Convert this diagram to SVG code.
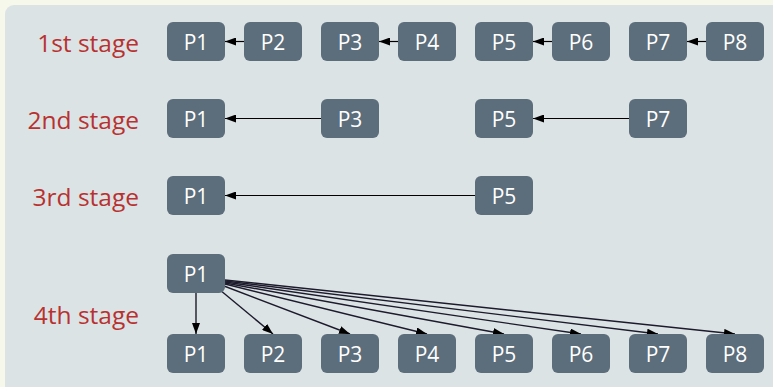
<svg xmlns="http://www.w3.org/2000/svg" width="773" height="387" viewBox="0 0 773 387">
  <style>
    .stage { font-family: "Open Sans", "Noto Sans", sans-serif; font-size: 24.5px; fill: #b83131; text-anchor: end; dominant-baseline: central; }
    .box { fill: #5c6d7b; }
    .lbl { font-family: "Open Sans", "Noto Sans", sans-serif; font-size: 21px; fill: #ffffff; text-anchor: middle; dominant-baseline: central; }
    .edge { stroke: #000; stroke-width: 1.2; fill: none; marker-end: url(#head); }
    .fan { stroke: #1c1a2c; stroke-width: 1.4; }
  </style>
  <defs>
    <marker id="head" markerUnits="userSpaceOnUse" markerWidth="11" markerHeight="8" refX="11" refY="4" orient="auto">
      <path d="M0,0 L11,4 L0,8 z" fill="#000"/>
    </marker>
    <g id="n">
      <rect class="box" width="58" height="39" rx="6" ry="6"/>
    </g>
  </defs>

  <rect width="773" height="387" fill="#f7f8ec"/>
  <rect x="5" y="5" width="790" height="400" rx="9" ry="9" fill="#dce3e5"/>

  <!-- stage labels -->
  <text class="stage" x="139" y="42">1st stage</text>
  <text class="stage" x="139" y="119">2nd stage</text>
  <text class="stage" x="139" y="196">3rd stage</text>
  <text class="stage" x="139" y="314">4th stage</text>

  <!-- connectors -->
  <g id="connectors">
    <line class="edge" x1="244" y1="41.5" x2="225" y2="41.5"/>
    <line class="edge" x1="398" y1="41.5" x2="379" y2="41.5"/>
    <line class="edge" x1="552" y1="41.5" x2="533" y2="41.5"/>
    <line class="edge" x1="706" y1="41.5" x2="687" y2="41.5"/>

    <line class="edge" x1="321" y1="118.5" x2="225" y2="118.5"/>
    <line class="edge" x1="629" y1="118.5" x2="533" y2="118.5"/>

    <line class="edge" x1="475" y1="195.5" x2="225" y2="195.5"/>

    <line class="edge fan" x1="196" y1="293" x2="196" y2="334"/>
    <line class="edge fan" x1="220" y1="290" x2="273" y2="334"/>
    <line class="edge fan" x1="224" y1="286" x2="350" y2="334"/>
    <line class="edge fan" x1="225" y1="284" x2="427" y2="334"/>
    <line class="edge fan" x1="225" y1="283" x2="504" y2="334"/>
    <line class="edge fan" x1="225" y1="282" x2="581" y2="334"/>
    <line class="edge fan" x1="225" y1="281" x2="658" y2="334"/>
    <line class="edge fan" x1="225" y1="280" x2="735" y2="334"/>
  </g>

  <!-- stage 1 -->
  <g id="s1-p1"><use href="#n" x="167" y="22"/><text class="lbl" x="196" y="41.5">P1</text></g>
  <g id="s1-p2"><use href="#n" x="244" y="22"/><text class="lbl" x="273" y="41.5">P2</text></g>
  <g id="s1-p3"><use href="#n" x="321" y="22"/><text class="lbl" x="350" y="41.5">P3</text></g>
  <g id="s1-p4"><use href="#n" x="398" y="22"/><text class="lbl" x="427" y="41.5">P4</text></g>
  <g id="s1-p5"><use href="#n" x="475" y="22"/><text class="lbl" x="504" y="41.5">P5</text></g>
  <g id="s1-p6"><use href="#n" x="552" y="22"/><text class="lbl" x="581" y="41.5">P6</text></g>
  <g id="s1-p7"><use href="#n" x="629" y="22"/><text class="lbl" x="658" y="41.5">P7</text></g>
  <g id="s1-p8"><use href="#n" x="706" y="22"/><text class="lbl" x="735" y="41.5">P8</text></g>

  <!-- stage 2 -->
  <g id="s2-p1"><use href="#n" x="167" y="99"/><text class="lbl" x="196" y="118.5">P1</text></g>
  <g id="s2-p3"><use href="#n" x="321" y="99"/><text class="lbl" x="350" y="118.5">P3</text></g>
  <g id="s2-p5"><use href="#n" x="475" y="99"/><text class="lbl" x="504" y="118.5">P5</text></g>
  <g id="s2-p7"><use href="#n" x="629" y="99"/><text class="lbl" x="658" y="118.5">P7</text></g>

  <!-- stage 3 -->
  <g id="s3-p1"><use href="#n" x="167" y="176"/><text class="lbl" x="196" y="195.5">P1</text></g>
  <g id="s3-p5"><use href="#n" x="475" y="176"/><text class="lbl" x="504" y="195.5">P5</text></g>

  <!-- stage 4 -->
  <g id="s4-src"><use href="#n" x="167" y="254"/><text class="lbl" x="196" y="273.5">P1</text></g>
  <g id="s4-p1"><use href="#n" x="167" y="334"/><text class="lbl" x="196" y="353.5">P1</text></g>
  <g id="s4-p2"><use href="#n" x="244" y="334"/><text class="lbl" x="273" y="353.5">P2</text></g>
  <g id="s4-p3"><use href="#n" x="321" y="334"/><text class="lbl" x="350" y="353.5">P3</text></g>
  <g id="s4-p4"><use href="#n" x="398" y="334"/><text class="lbl" x="427" y="353.5">P4</text></g>
  <g id="s4-p5"><use href="#n" x="475" y="334"/><text class="lbl" x="504" y="353.5">P5</text></g>
  <g id="s4-p6"><use href="#n" x="552" y="334"/><text class="lbl" x="581" y="353.5">P6</text></g>
  <g id="s4-p7"><use href="#n" x="629" y="334"/><text class="lbl" x="658" y="353.5">P7</text></g>
  <g id="s4-p8"><use href="#n" x="706" y="334"/><text class="lbl" x="735" y="353.5">P8</text></g>
</svg>
